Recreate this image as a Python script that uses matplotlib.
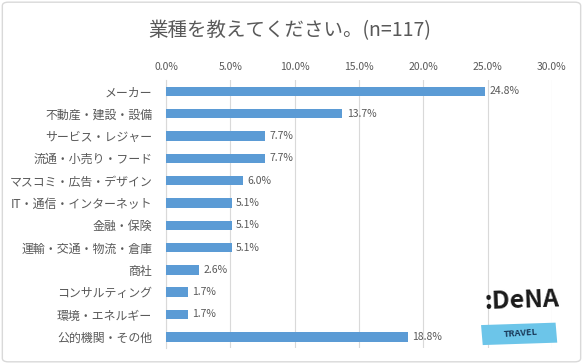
import matplotlib.pyplot as plt
from matplotlib.patches import FancyBboxPatch, Rectangle
import numpy as np

plt.rcParams['font.family'] = ['Noto Sans CJK JP', 'DejaVu Sans']

categories = ['メーカー', '不動産・建設・設備', 'サービス・レジャー', '流通・小売り・フード',
              'マスコミ・広告・デザイン', 'IT・通信・インターネット', '金融・保険',
              '運輸・交通・物流・倉庫', '商社', 'コンサルティング', '環境・エネルギー',
              '公的機関・その他']
values = [24.8, 13.7, 7.7, 7.7, 6.0, 5.1, 5.1, 5.1, 2.6, 1.7, 1.7, 18.8]
ticks = [0, 5, 10, 15, 20, 25, 30]

grey = '#595959'
fig = plt.figure(figsize=(5.83, 3.64), dpi=100)
fig.patches.append(FancyBboxPatch((0.004, 0.006), 0.992, 0.988, boxstyle='round,pad=0,rounding_size=0.01',
                                  transform=fig.transFigure, fill=False, ec='#d9d9d9', lw=1))
ax = fig.add_axes([0.2847, 0.044, 0.662, 0.736])

y = np.arange(len(categories))
ax.barh(y, values, height=0.42, color='#5B9BD5', zorder=3)
for yi, v in zip(y, values):
    ax.text(v + 0.35, yi, f'{v:.1f}%', va='center', ha='left', fontsize=7.5, color=grey, zorder=4)

ax.set_xlim(0, 30)
ax.set_ylim(len(categories) - 0.5, -0.5)
ax.set_xticks(ticks)
ax.set_xticklabels([f'{t:.1f}%' for t in ticks], fontsize=7.5, color=grey)
ax.xaxis.tick_top()
ax.tick_params(axis='x', length=0, pad=6)
ax.set_yticks(y)
ax.set_yticklabels(categories, fontsize=8.6, color=grey)
ax.tick_params(axis='y', length=0, pad=10)
ax.grid(axis='x', color='#d9d9d9', lw=0.8, zorder=0)
for s in ['top', 'right', 'bottom']:
    ax.spines[s].set_visible(False)
ax.spines['left'].set_color('#d9d9d9')

fig.text(0.497, 0.915, '業種を教えてください。(n=117)', ha='center', va='center', fontsize=14, color=grey)

# logo
fig.text(0.895, 0.175, ':DeNA', ha='center', va='center', fontsize=18, fontweight='bold',
         color='#1a1a1a', rotation=2)
fig.patches.append(Rectangle((0.828, 0.052), 0.128, 0.055, angle=3,
                             transform=fig.transFigure, fc='#6cc5e9', ec='none'))
fig.text(0.893, 0.083, 'TRAVEL', ha='center', va='center', fontsize=6.5, fontweight='bold',
         color='#1a3a5a', rotation=4)

fig.savefig('out.png', dpi=100)
